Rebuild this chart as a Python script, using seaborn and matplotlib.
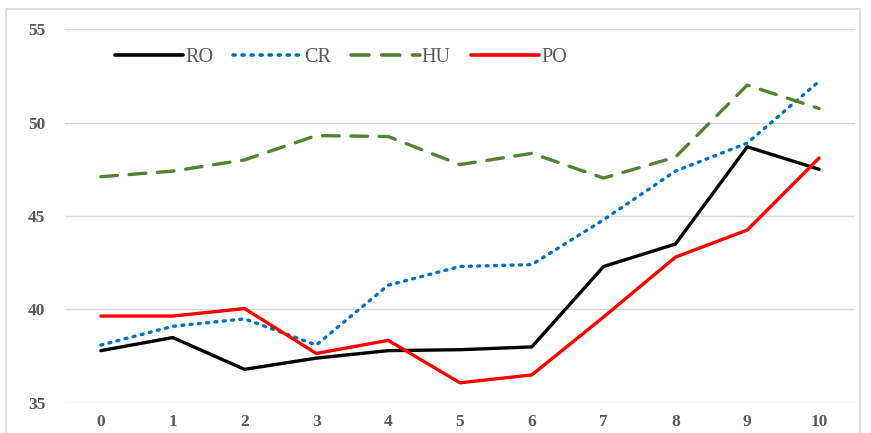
import numpy as np
import pandas as pd
import seaborn as sns
import matplotlib.pyplot as plt
from matplotlib.patches import Rectangle

years = list(range(0, 11))
ro = [37.8, 38.5, 36.8, 37.4, 37.8, 37.85, 38.0, 42.3, 43.5, 48.7, 47.5]
cr = [38.1, 39.1, 39.5, 38.1, 41.3, 42.3, 42.4, 44.8, 47.4, 48.9, 52.2]
hu = [47.1, 47.4, 48.0, 49.3, 49.25, 47.75, 48.35, 47.03, 48.15, 52.0, 50.75]
po = [39.65, 39.65, 40.05, 37.65, 38.35, 36.08, 36.5, 39.6, 42.8, 44.25, 48.1]

series = ['RO', 'CR', 'HU', 'PO']
colors = {'RO': '#000000', 'CR': '#0070C0', 'HU': '#548235', 'PO': '#FF0000'}
dashes = {'RO': '', 'CR': (0.6, 1.9), 'HU': (5, 3.5), 'PO': ''}

df = pd.DataFrame({'year': years, 'RO': ro, 'CR': cr, 'HU': hu, 'PO': po})
long = df.melt(id_vars='year', var_name='country', value_name='value')

sns.set_style('white')
plt.rcParams['font.family'] = ['Liberation Serif', 'DejaVu Serif']

fig = plt.figure(figsize=(8.71, 4.33), dpi=100)
ax = fig.add_axes([0.0746, 0.0693, 0.907, 0.8637])

sns.lineplot(ax=ax, data=long, x='year', y='value', hue='country', style='country',
             hue_order=series, style_order=series, palette=colors, dashes=dashes,
             linewidth=2.4)
for ln in ax.get_lines():
    ln.set_dash_capstyle('round')

ax.set_xlim(-0.5, 10.5)
ax.set_ylim(35, 55)
ax.set_yticks([35, 40, 45, 50, 55])
ax.set_xticks(years)
ax.grid(axis='y', color='#d9d9d9', linewidth=1)
ax.set_axisbelow(True)
for s in ax.spines.values():
    s.set_visible(False)
ax.set_xlabel('')
ax.set_ylabel('')
ax.tick_params(axis='both', length=0, labelsize=12.5, labelcolor='#595959')
ax.tick_params(axis='y', pad=14)
ax.tick_params(axis='x', pad=8)
for lab in ax.get_xticklabels() + ax.get_yticklabels():
    lab.set_fontweight('bold')

leg = ax.legend(loc='center left', bbox_to_anchor=(0.04, 0.925), ncol=4, frameon=False,
                handlelength=3.4, handletextpad=0.1, columnspacing=1.0,
                prop={'family': 'Liberation Serif', 'size': 14.5})
for t in leg.get_texts():
    t.set_color('#595959')
for ln in leg.get_lines():
    ln.set_linewidth(2.6)
    ln.set_dash_capstyle('round')

fig.patches.append(Rectangle((6 / 871, -0.05), 854 / 871, 1 - 9 / 433 + 0.05,
                             transform=fig.transFigure, fill=False,
                             edgecolor='#d9d9d9', linewidth=1.2))

fig.savefig('out.png', dpi=100)
